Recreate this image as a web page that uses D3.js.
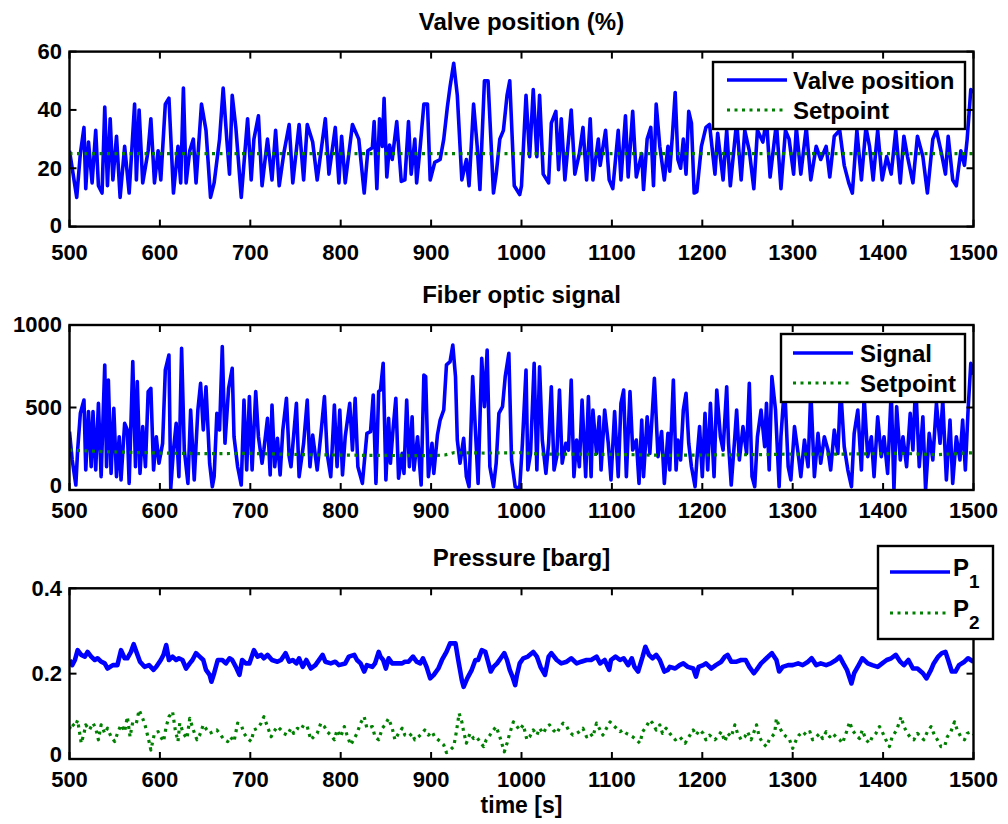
<!DOCTYPE html>
<html>
<head>
<meta charset="utf-8">
<script src="https://cdn.jsdelivr.net/npm/d3@7"></script>
<style>
  body { margin: 0; background: #fff; }
  svg text { font-family: "Liberation Sans", Arial, Helvetica, sans-serif; font-weight: bold; fill: #000; }
</style>
</head>
<body>
<svg id="chart" width="1008" height="824"></svg>
<script>
(function(){
    // time axis
    const timeTicks = [500, 600, 700, 800, 900, 1000, 1100, 1200, 1300, 1400, 1500];

    // valve position (%) [time, value]
    const valve = [[500,26],[504,18],[508,10],[512,25],[516,34],[518,13],[521,29],[525,15],[529,33],[532,14],[536,11.5],[539,41],[542,14],[545,37],[548,16],[552,31],[556,10],[561,27.5],[566,11.5],[572,42],[574,16],[577,40],[581,15],[587,26],[590,37],[594,15],[598,26],[601,16],[606,42],[610,44],[615,11.5],[620,27.5],[623,15],[626,47.5],[629,15],[633,26],[637,30],[640,15],[646,42],[651,33],[656,10],[660,15],[666,30],[670,47.5],[674,30],[677,18],[680,45],[684,34],[690,10],[697,37],[701,16],[704,30],[709,38],[713,14],[719,30],[724,16],[728,33],[732,14],[737,25],[743,35],[747,15],[754,35],[759,16],[763,35],[769,29],[774,16],[783,37],[787,18],[794,34],[798,15],[801,31],[805,15],[813,35],[820,30],[826,11.5],[830,26],[835,27],[837,36],[840,13],[843,37],[846,27.5],[848,44],[851,17],[854,28],[857,23],[862,36],[867,15.5],[871,16],[875,36],[878,18],[882,30],[884,15],[888,27.5],[892,42],[896,42],[899,16],[904,22],[910,23],[914,30],[918,41],[921,48],[925,56],[929,45],[934,16],[939,23],[942,14],[947,42],[951,27.5],[954,12.7],[959,50],[963,50],[969,11.5],[972,18],[976,30],[980,33],[984,45],[987,50],[992,14],[998,11],[1000,14],[1005,45],[1009,24],[1013,47],[1017,24],[1020,45],[1024,18],[1030,15],[1033,35.5],[1038,39.5],[1041,19.5],[1044,37],[1048,16],[1055,40],[1059,18],[1064,25],[1068,34],[1072,16],[1076,37],[1079,16],[1085,30],[1087,21],[1093,33],[1097,16],[1101,13],[1107,33],[1110,16],[1115,38],[1118,17],[1123,39.5],[1127,17],[1133,25],[1135,12.7],[1139,30],[1143,34],[1146,14],[1149,42],[1153,27.5],[1158,16],[1162,27.5],[1164,19],[1167,31.5],[1170,46],[1173,23],[1176,20],[1179,30],[1182,18],[1185,39.5],[1188,35.5],[1191,11.5],[1194,12],[1199,27.5],[1204,34],[1208,35],[1214,18],[1217,32],[1223,16],[1227,33],[1231,14],[1238,36],[1243,16],[1247,33],[1252,26],[1257,13],[1261,33],[1267,29],[1271,37],[1275,17],[1282,35.5],[1287,13],[1292,33],[1296,30],[1301,18],[1304,34],[1309,18],[1315,34],[1320,16],[1326,27.5],[1331,23],[1337,27.5],[1341,17],[1346,31],[1352,33],[1357,21],[1362,15],[1366,11.5],[1371,33],[1376,16],[1381,34],[1385,27.5],[1389,16],[1394,33],[1399,16],[1404,24],[1409,18],[1414,33],[1419,15],[1423,31],[1427,24],[1433,15],[1438,31],[1444,24],[1449,11.5],[1455,30],[1459,33],[1464,26],[1469,18],[1472,31],[1477,16],[1481,14],[1486,26],[1490,21],[1493,30],[1497,47],[1500,46]];
    const valveSetpoint = [[500,25],[1500,25]];

    // fiber optic signal [time, value]
    const fiber = [[500,354],[503,182],[507,30],[509,242],[512,465],[516,545],[518,121],[521,475],[524,141],[526,475],[529,121],[532,525],[535,81],[539,758],[541,141],[543,667],[546,101],[549,495],[552,81],[555,323],[557,61],[561,404],[564,364],[566,40],[570,778],[573,141],[575,657],[578,101],[581,384],[584,141],[587,596],[590,616],[593,121],[596,323],[599,162],[603,283],[606,727],[610,818],[612,10],[615,242],[618,404],[621,81],[624,859],[627,242],[631,40],[634,485],[638,61],[642,485],[645,646],[648,364],[651,626],[655,162],[658,20],[660,81],[663,465],[666,364],[669,869],[672,283],[676,616],[680,737],[682,323],[686,141],[690,30],[693,545],[696,121],[699,566],[702,121],[706,596],[709,323],[713,162],[715,242],[719,434],[722,91],[724,515],[727,141],[730,313],[733,91],[736,364],[740,556],[743,202],[745,141],[751,525],[754,81],[759,283],[763,545],[766,141],[769,333],[774,121],[778,333],[782,566],[785,222],[789,81],[793,515],[796,141],[799,485],[802,91],[805,323],[810,525],[813,242],[816,556],[819,141],[824,40],[829,343],[833,354],[836,576],[839,40],[842,596],[844,606],[847,768],[850,61],[853,434],[855,162],[858,374],[861,556],[864,71],[868,222],[870,101],[873,545],[876,141],[879,444],[881,121],[885,323],[889,30],[892,697],[894,687],[897,81],[901,283],[903,101],[907,333],[910,424],[914,485],[917,758],[921,778],[924,879],[927,687],[929,303],[932,162],[936,313],[939,81],[942,20],[946,687],[949,364],[952,40],[956,798],[959,505],[962,848],[965,141],[969,20],[972,162],[975,465],[979,505],[982,687],[986,828],[989,182],[993,20],[998,10],[1001,283],[1005,727],[1007,121],[1010,222],[1014,768],[1017,121],[1020,747],[1023,303],[1027,101],[1030,283],[1033,626],[1036,121],[1039,202],[1042,606],[1045,162],[1049,283],[1052,242],[1055,667],[1058,81],[1061,303],[1064,141],[1067,545],[1071,81],[1074,566],[1077,81],[1079,485],[1083,222],[1086,444],[1088,121],[1092,485],[1096,283],[1099,61],[1103,475],[1107,81],[1110,525],[1113,606],[1116,81],[1120,596],[1123,242],[1127,303],[1130,40],[1133,424],[1135,81],[1139,444],[1142,222],[1147,677],[1151,202],[1155,354],[1158,40],[1162,343],[1164,121],[1168,667],[1171,121],[1173,303],[1176,182],[1179,485],[1182,586],[1185,283],[1188,141],[1192,20],[1194,182],[1197,384],[1200,81],[1203,465],[1206,121],[1209,525],[1213,81],[1216,606],[1220,323],[1223,242],[1227,626],[1229,283],[1232,30],[1236,323],[1238,485],[1241,182],[1245,384],[1249,222],[1252,646],[1255,81],[1258,20],[1261,323],[1265,485],[1269,263],[1271,525],[1274,121],[1277,687],[1281,485],[1285,20],[1287,323],[1291,640],[1295,141],[1298,61],[1302,384],[1306,222],[1309,81],[1313,303],[1317,141],[1320,600],[1324,81],[1328,343],[1331,162],[1335,323],[1339,242],[1342,121],[1346,364],[1350,222],[1353,620],[1357,263],[1361,121],[1365,20],[1368,343],[1372,485],[1376,121],[1379,566],[1383,202],[1387,323],[1390,81],[1394,444],[1398,202],[1401,323],[1405,101],[1409,600],[1412,0],[1415,505],[1419,182],[1422,323],[1426,141],[1430,465],[1433,242],[1436,650],[1440,141],[1444,444],[1447,0],[1451,343],[1455,182],[1459,525],[1463,283],[1466,545],[1470,61],[1474,424],[1477,40],[1481,323],[1485,182],[1488,424],[1491,121],[1494,485],[1497,768],[1500,700]];
    const fiberSetpoint = [[500,242],[540,232],[600,224],[650,220],[700,222],[760,214],[830,210],[900,208],[915,212],[925,226],[960,224],[1000,226],[1020,218],[1100,216],[1160,210],[1200,212],[1260,214],[1300,218],[1360,218],[1420,222],[1460,214],[1500,226]];

    // pressure [barg] [time, value]
    const p1 = [[500,.232],[503,.220],[506,.232],[509,.255],[513,.244],[517,.240],[520,.251],[524,.240],[528,.232],[531,.236],[535,.228],[539,.224],[542,.212],[548,.220],[553,.220],[557,.255],[561,.236],[564,.236],[568,.251],[571,.269],[574,.251],[578,.228],[583,.216],[588,.220],[593,.209],[596,.216],[601,.232],[604,.244],[607,.267],[610,.232],[614,.240],[618,.232],[621,.236],[625,.232],[629,.212],[633,.224],[636,.232],[640,.248],[644,.240],[648,.232],[651,.209],[655,.197],[657,.181],[660,.201],[664,.232],[669,.232],[673,.224],[677,.236],[680,.232],[684,.216],[688,.197],[691,.232],[695,.224],[699,.224],[704,.255],[708,.240],[712,.244],[715,.236],[719,.244],[724,.232],[730,.228],[734,.232],[739,.248],[743,.228],[747,.232],[751,.224],[754,.236],[758,.216],[762,.232],[767,.212],[772,.220],[780,.244],[783,.228],[789,.224],[794,.228],[798,.220],[805,.224],[809,.240],[815,.244],[818,.232],[822,.224],[826,.205],[829,.220],[835,.216],[838,.224],[842,.251],[844,.240],[847,.232],[850,.212],[853,.236],[857,.224],[862,.224],[868,.224],[871,.228],[875,.228],[880,.240],[884,.228],[888,.224],[891,.236],[895,.216],[899,.189],[903,.197],[908,.212],[912,.232],[917,.251],[921,.271],[927,.271],[930,.232],[934,.185],[936,.169],[940,.189],[945,.209],[949,.232],[952,.232],[956,.255],[960,.251],[963,.228],[966,.205],[969,.216],[973,.224],[977,.236],[981,.248],[984,.232],[987,.209],[990,.193],[993,.173],[995,.197],[998,.224],[1002,.236],[1007,.240],[1013,.251],[1017,.240],[1021,.216],[1026,.197],[1030,.240],[1033,.248],[1039,.232],[1044,.224],[1050,.228],[1055,.236],[1061,.224],[1066,.228],[1072,.232],[1077,.232],[1083,.240],[1087,.224],[1092,.232],[1097,.209],[1099,.232],[1104,.240],[1109,.232],[1113,.236],[1118,.220],[1122,.236],[1125,.216],[1129,.205],[1134,.240],[1137,.263],[1141,.244],[1145,.236],[1149,.244],[1153,.232],[1158,.205],[1162,.209],[1164,.216],[1170,.212],[1175,.220],[1179,.224],[1184,.216],[1190,.212],[1193,.193],[1196,.216],[1201,.220],[1204,.224],[1210,.212],[1215,.220],[1221,.228],[1225,.240],[1228,.244],[1232,.228],[1238,.228],[1243,.232],[1248,.232],[1252,.216],[1257,.201],[1260,.209],[1265,.224],[1271,.236],[1277,.248],[1282,.232],[1285,.205],[1289,.216],[1295,.220],[1300,.220],[1306,.224],[1311,.220],[1317,.228],[1321,.236],[1326,.220],[1331,.224],[1337,.220],[1342,.224],[1348,.232],[1352,.240],[1356,.224],[1360,.209],[1365,.177],[1368,.201],[1373,.220],[1377,.236],[1383,.224],[1388,.220],[1394,.216],[1399,.224],[1404,.232],[1409,.236],[1414,.244],[1419,.228],[1423,.220],[1428,.232],[1433,.212],[1438,.212],[1444,.201],[1448,.189],[1453,.209],[1456,.224],[1461,.240],[1465,.248],[1469,.251],[1472,.232],[1476,.205],[1480,.205],[1484,.220],[1490,.228],[1494,.236],[1500,.228]];
    const p2 = [[500,.070],[502,.084],[506,.076],[509,.091],[513,.037],[516,.060],[518,.080],[522,.068],[526,.084],[529,.072],[532,.045],[535,.080],[539,.060],[542,.072],[546,.052],[550,.041],[553,.060],[557,.080],[561,.064],[564,.099],[567,.052],[570,.087],[574,.084],[577,.115],[581,.095],[584,.076],[588,.041],[590,.021],[594,.060],[598,.064],[601,.052],[604,.041],[607,.076],[610,.099],[614,.111],[617,.068],[620,.041],[622,.084],[626,.060],[630,.048],[633,.095],[637,.068],[641,.045],[644,.056],[648,.080],[652,.068],[655,.060],[659,.064],[663,.068],[666,.060],[671,.045],[675,.041],[678,.052],[682,.041],[686,.084],[690,.080],[693,.060],[697,.048],[701,.041],[704,.068],[708,.072],[712,.084],[715,.099],[719,.076],[723,.052],[726,.064],[730,.076],[734,.068],[737,.060],[741,.056],[745,.072],[748,.060],[752,.072],[756,.068],[759,.080],[763,.076],[767,.045],[770,.052],[774,.060],[778,.084],[782,.076],[785,.064],[789,.056],[793,.045],[796,.068],[800,.052],[804,.076],[807,.056],[811,.033],[815,.048],[818,.060],[822,.084],[826,.099],[829,.072],[835,.076],[838,.052],[842,.045],[846,.072],[849,.080],[853,.095],[857,.072],[860,.045],[864,.060],[868,.072],[871,.056],[875,.052],[879,.060],[882,.045],[886,.052],[890,.060],[893,.068],[897,.056],[901,.064],[904,.052],[910,.041],[914,.033],[917,.015],[921,.021],[925,.029],[928,.064],[931,.107],[934,.087],[936,.064],[939,.037],[943,.060],[947,.048],[950,.052],[954,.041],[958,.029],[961,.045],[965,.056],[969,.068],[972,.076],[976,.052],[981,.017],[984,.037],[987,.060],[991,.087],[995,.076],[998,.068],[1002,.080],[1006,.045],[1009,.052],[1013,.068],[1017,.056],[1020,.072],[1024,.060],[1028,.076],[1031,.080],[1035,.068],[1039,.060],[1042,.072],[1046,.084],[1050,.076],[1053,.064],[1057,.056],[1061,.060],[1064,.064],[1068,.072],[1072,.052],[1076,.060],[1079,.052],[1083,.084],[1087,.068],[1090,.056],[1094,.072],[1098,.087],[1101,.080],[1105,.072],[1109,.064],[1112,.068],[1116,.060],[1120,.056],[1123,.052],[1127,.045],[1131,.037],[1134,.064],[1138,.076],[1142,.091],[1145,.084],[1149,.068],[1153,.080],[1156,.060],[1160,.072],[1164,.060],[1170,.045],[1175,.052],[1181,.037],[1184,.048],[1190,.068],[1193,.056],[1197,.068],[1201,.060],[1204,.045],[1208,.056],[1214,.045],[1217,.052],[1221,.064],[1225,.041],[1228,.060],[1232,.052],[1236,.080],[1239,.060],[1243,.045],[1247,.052],[1250,.064],[1254,.045],[1260,.080],[1263,.052],[1267,.037],[1271,.029],[1274,.045],[1280,.060],[1282,.095],[1285,.076],[1289,.060],[1293,.052],[1296,.048],[1300,.025],[1304,.045],[1307,.056],[1311,.064],[1315,.056],[1319,.064],[1322,.045],[1326,.052],[1330,.060],[1333,.048],[1337,.064],[1341,.052],[1344,.060],[1348,.052],[1352,.045],[1355,.037],[1359,.060],[1363,.087],[1366,.068],[1370,.056],[1374,.048],[1377,.068],[1381,.045],[1385,.037],[1388,.052],[1392,.060],[1396,.076],[1399,.064],[1403,.045],[1407,.029],[1410,.052],[1415,.068],[1420,.099],[1423,.076],[1427,.060],[1431,.048],[1434,.045],[1438,.060],[1442,.052],[1445,.045],[1449,.064],[1453,.076],[1456,.060],[1460,.045],[1464,.029],[1468,.029],[1471,.052],[1475,.064],[1479,.087],[1482,.068],[1486,.052],[1490,.045],[1493,.060],[1497,.064],[1500,.058]];

    const BLUE = "#0000ff", GREEN = "#008000";
    const X0 = 69.5, X1 = 973.5;

    const panels = [
        { title: "Valve position (%)", top: 51.6, bottom: 226.6, yDomain: [0, 60], yTicks: [0, 20, 40, 60], fmt: d => d, labelGap: 33, zeroDy: "0.3em", width: 3.6,
          series: [ { data: valve, dotted: false }, { data: valveSetpoint, dotted: true } ],
          legend: { x: 713, y: 62, w: 252, h: 67, sx: 727, tx: 793, rows: [ { y: 80, base: 89, label: "Valve position" }, { y: 110, base: 119, label: "Setpoint" } ] } },
        { title: "Fiber optic signal", top: 325, bottom: 490, yDomain: [0, 1000], yTicks: [0, 500, 1000], fmt: d => d, labelGap: 28, zeroDy: "0.15em", width: 3.6,
          series: [ { data: fiber, dotted: false }, { data: fiberSetpoint, dotted: true } ],
          legend: { x: 781, y: 334, w: 184, h: 68, sx: 793, tx: 860, rows: [ { y: 353, base: 362, label: "Signal" }, { y: 383, base: 392, label: "Setpoint" } ] } },
        { title: "Pressure [barg]", top: 588.3, bottom: 759, yDomain: [0, 0.4], yTicks: [0, 0.2, 0.4], fmt: d => d === 0 ? "0" : d3.format(".1f")(d), labelGap: 28, zeroDy: "0.15em", width: 4.6,
          series: [ { data: p1, dotted: false }, { data: p2, dotted: true } ],
          legend: { x: 878, y: 546, w: 115, h: 93, sx: 890, tx: 953, rows: [ { y: 572, base: 576, label: "P", sub: "1" }, { y: 613, base: 617, label: "P", sub: "2" } ] } }
    ];

    const svg = d3.select("#chart");
    const x = d3.scaleLinear().domain([500, 1500]).range([X0, X1]);

    panels.forEach((p, i) => {
        const y = d3.scaleLinear().domain(p.yDomain).range([p.bottom, p.top]);
        const g = svg.append("g");

        g.append("clipPath").attr("id", "clip" + i)
            .append("rect").attr("x", X0).attr("y", p.top).attr("width", X1 - X0).attr("height", p.bottom - p.top);

        const line = d3.line().x(d => x(d[0])).y(d => y(d[1]));
        p.series.forEach(s => {
            g.append("path").datum(s.data)
                .attr("clip-path", `url(#clip${i})`)
                .attr("d", line)
                .attr("fill", "none")
                .attr("stroke", s.dotted ? GREEN : BLUE)
                .attr("stroke-width", s.dotted ? 3.2 : p.width)
                .attr("stroke-linejoin", "round")
                .attr("stroke-dasharray", s.dotted ? "3,4.5" : null);
        });

        // axes box with inward ticks on all sides
        g.append("rect").attr("x", X0).attr("y", p.top).attr("width", X1 - X0).attr("height", p.bottom - p.top)
            .attr("fill", "none").attr("stroke", "#000").attr("stroke-width", 2.4);

        const tl = 7;
        timeTicks.forEach(t => {
            g.append("line").attr("x1", x(t)).attr("x2", x(t)).attr("y1", p.bottom).attr("y2", p.bottom - tl).attr("stroke", "#000").attr("stroke-width", 2);
            g.append("line").attr("x1", x(t)).attr("x2", x(t)).attr("y1", p.top).attr("y2", p.top + tl).attr("stroke", "#000").attr("stroke-width", 2);
            g.append("text").attr("x", x(t)).attr("y", p.bottom + p.labelGap).attr("text-anchor", "middle").attr("font-size", 22).text(t);
        });
        p.yTicks.forEach(v => {
            g.append("line").attr("x1", X0).attr("x2", X0 + tl).attr("y1", y(v)).attr("y2", y(v)).attr("stroke", "#000").attr("stroke-width", 2);
            g.append("line").attr("x1", X1).attr("x2", X1 - tl).attr("y1", y(v)).attr("y2", y(v)).attr("stroke", "#000").attr("stroke-width", 2);
            g.append("text").attr("x", 62).attr("y", y(v)).attr("dy", v === 0 ? p.zeroDy : "0.33em")
                .attr("text-anchor", "end").attr("font-size", 22).text(p.fmt(v));
        });

        g.append("text").attr("x", (X0 + X1) / 2).attr("y", p.top - 22).attr("text-anchor", "middle").attr("font-size", 24).text(p.title);

        // legend
        const L = p.legend;
        const lg = g.append("g");
        lg.append("rect").attr("x", L.x).attr("y", L.y).attr("width", L.w).attr("height", L.h)
            .attr("fill", "#fff").attr("stroke", "#000").attr("stroke-width", 2.4);
        L.rows.forEach((r, k) => {
            const dotted = p.series[k].dotted;
            lg.append("line").attr("x1", L.sx).attr("x2", L.sx + 60).attr("y1", r.y).attr("y2", r.y)
                .attr("stroke", dotted ? GREEN : BLUE).attr("stroke-width", dotted ? 3.2 : 3.6)
                .attr("stroke-dasharray", dotted ? "3,4.5" : null);
            const t = lg.append("text").attr("x", L.tx).attr("y", r.base).attr("font-size", 24).text(r.label);
            if (r.sub) t.append("tspan").attr("dy", 12).attr("font-size", 19).text(r.sub);
        });
    });

    svg.append("text").attr("x", (X0 + X1) / 2).attr("y", 813).attr("text-anchor", "middle").attr("font-size", 23).text("time [s]");
})();
</script>
</body>
</html>
